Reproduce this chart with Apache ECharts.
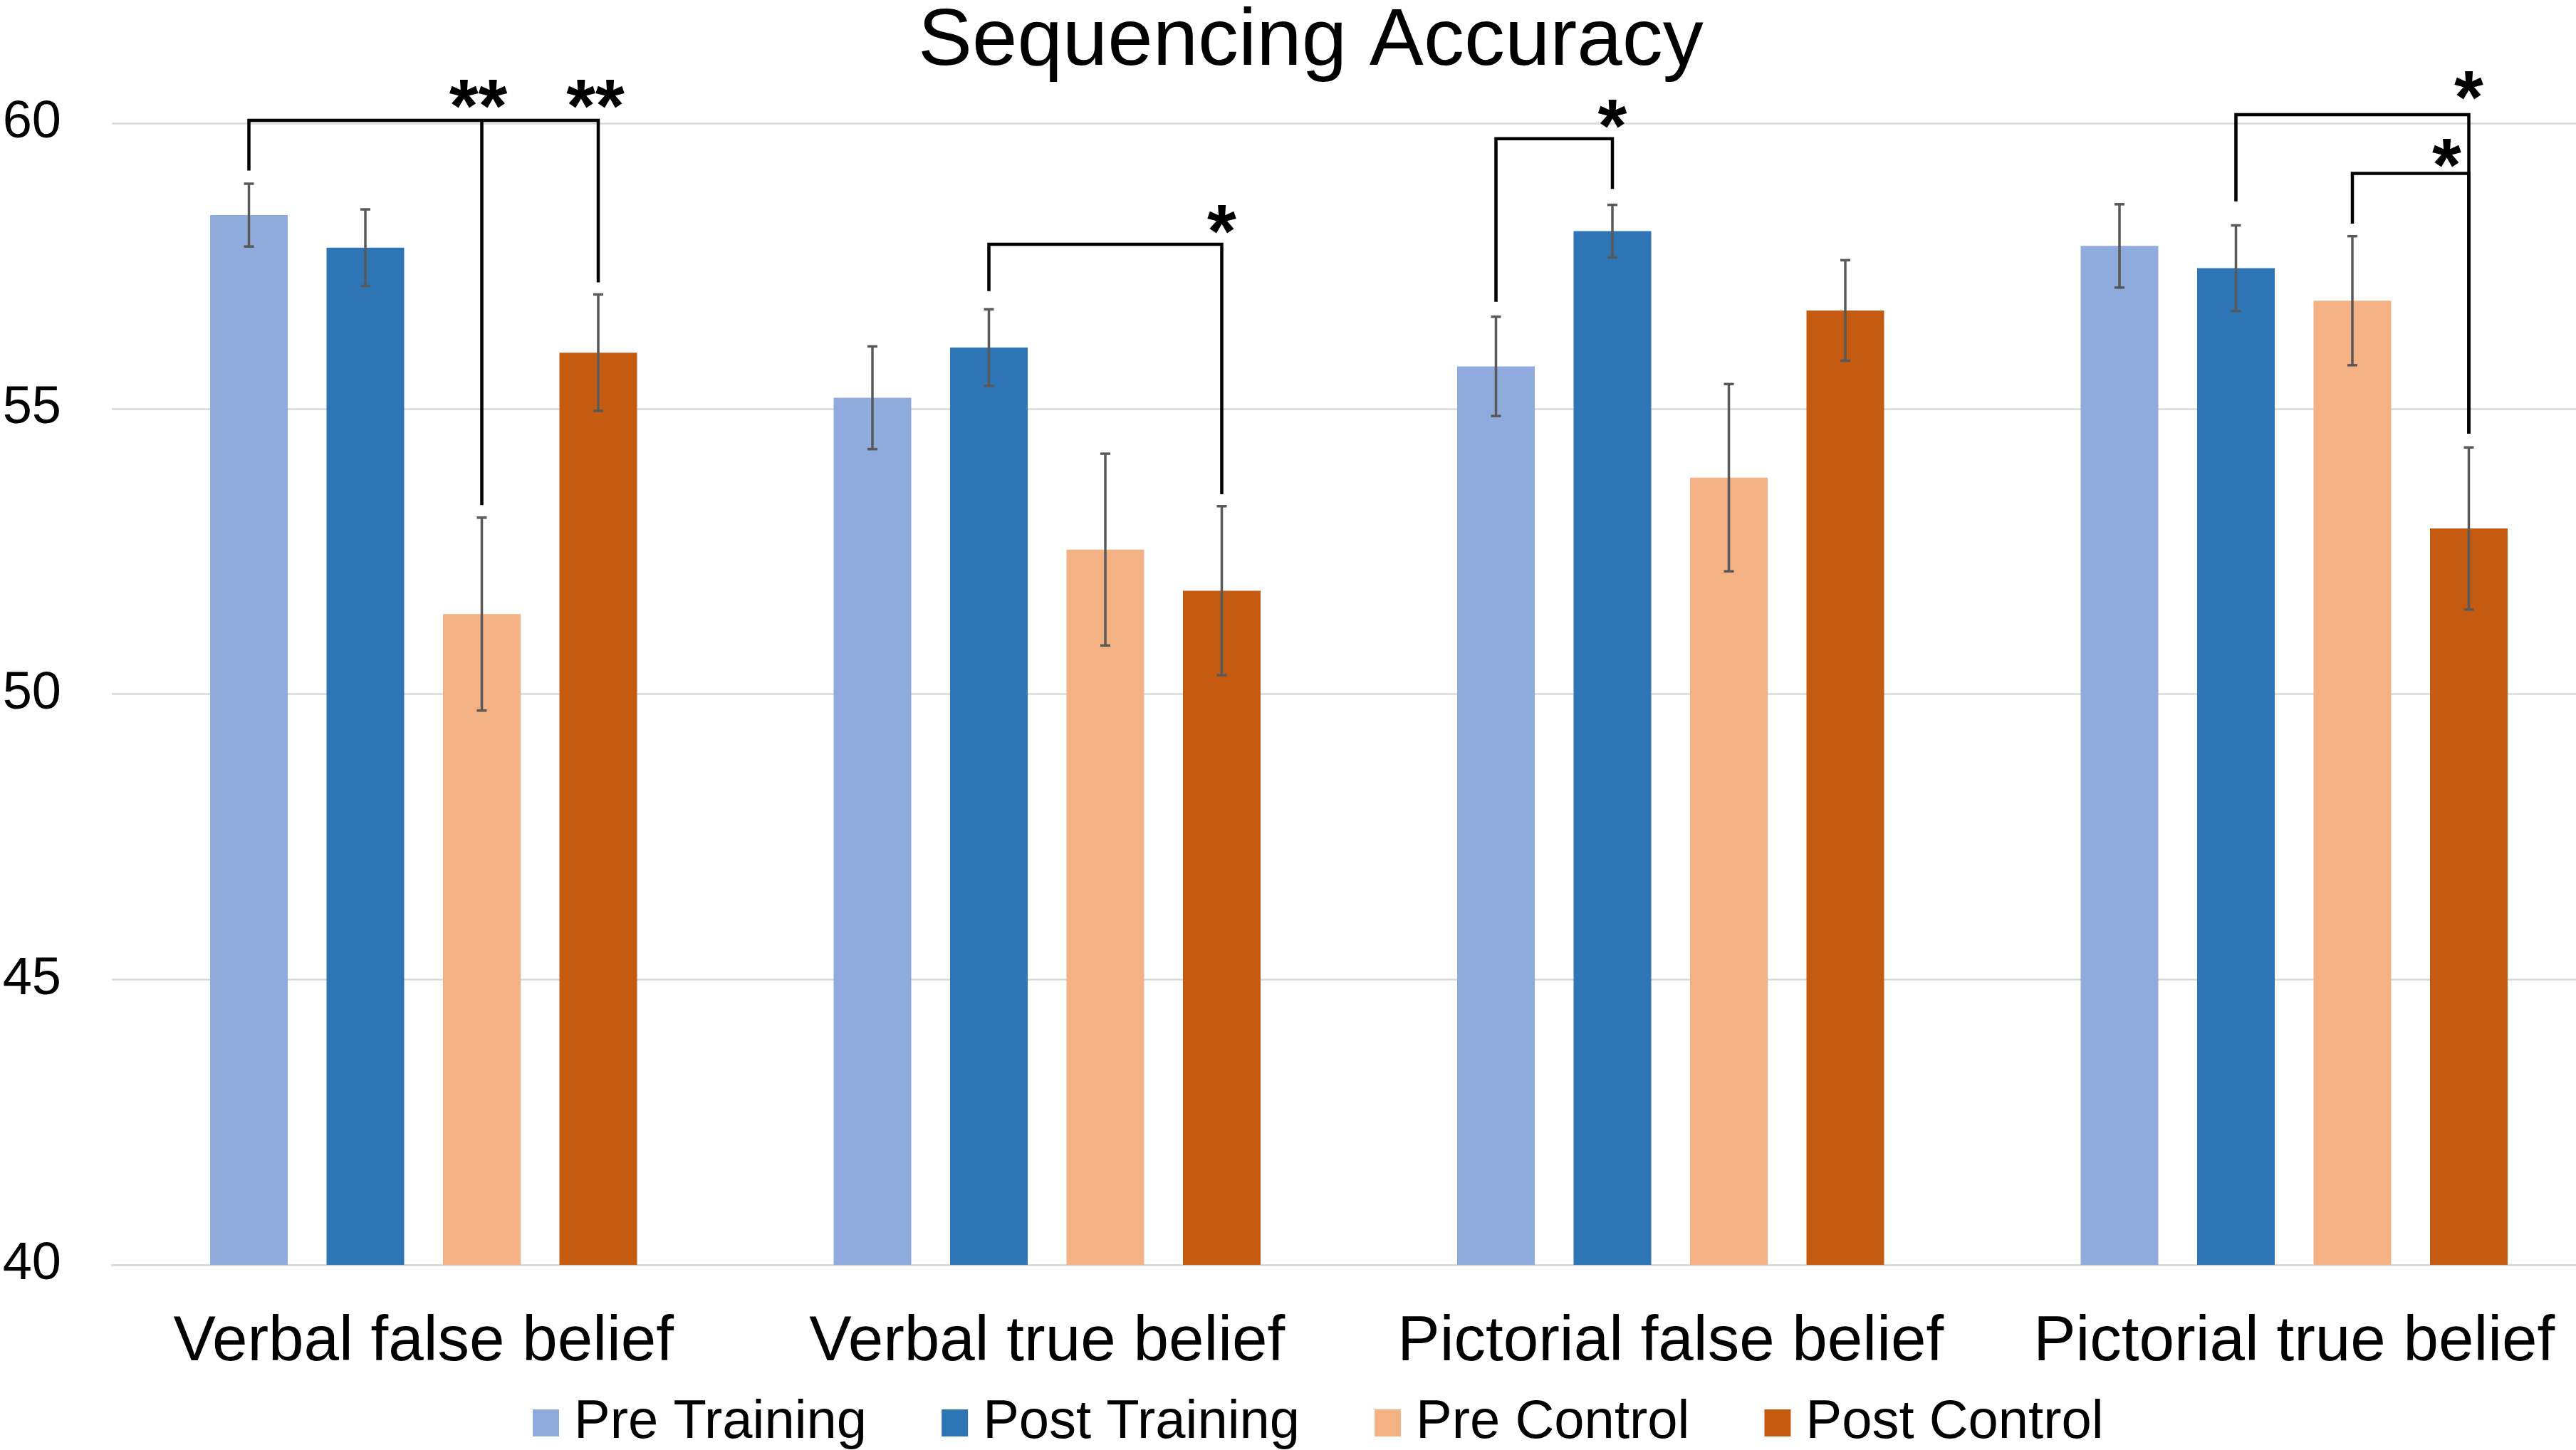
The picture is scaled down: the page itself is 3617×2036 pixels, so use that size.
<!doctype html>
<html>

<head>
    <meta charset="utf-8">
    <title>Sequencing Accuracy</title>
    <style>
        html,
        body {
            margin: 0;
            padding: 0;
            background: #fff;
        }

        #chart {
            width: 3617px;
            height: 2036px;
        }
    </style>
</head>

<body>
    <div id="chart"></div>
    <script src="https://cdn.jsdelivr.net/npm/echarts@6/dist/echarts.min.js"></script>
    <script>
        var categories = ['Verbal false belief', 'Verbal true belief', 'Pictorial false belief', 'Pictorial true belief'];
        var seriesNames = ['Pre Training', 'Post Training', 'Pre Control', 'Post Control'];
        var colors = ['#8FAADC', '#2E75B6', '#F4B183', '#C55A11'];

        // means
        var preTraining = [58.39, 55.19, 55.74, 57.85];
        var postTraining = [57.82, 56.07, 58.11, 57.46];
        var preControl = [51.40, 52.53, 53.79, 56.89];
        var postControl = [55.98, 51.81, 56.72, 52.90];

        // error bar half widths
        var preTrainingErr = [0.55, 0.90, 0.87, 0.73];
        var postTrainingErr = [0.67, 0.67, 0.46, 0.75];
        var preControlErr = [1.69, 1.68, 1.64, 1.13];
        var postControlErr = [1.02, 1.48, 0.88, 1.42];

        var yTicks = { min: 40, max: 60, interval: 5 };

        // significance brackets: [category, from bar, to bar, bracket level, drop at from, drop at to]
        var brackets = [
            [0, 0, 3, 60.05, 59.17, 57.21],
            [0, 2, 2, 60.05, 53.31, 53.31],
            [1, 1, 3, 57.88, 57.06, 53.50],
            [2, 0, 1, 59.73, 56.87, 58.85],
            [3, 1, 3, 60.15, 58.63, 54.56],
            [3, 2, 3, 59.12, 58.24, 54.56]
        ];
        // stars: [category, bar, value, pixel shift x]
        var stars = [
            [0, 2, 60.47, -5],
            [0, 3, 60.47, -4],
            [1, 3, 58.28, 0],
            [2, 1, 60.13, 0],
            [3, 3, 60.62, 0],
            [3, 3, 59.44, -31]
        ];
        var starLabels = ['**', '**', '*', '*', '*', '*'];

        var means = [preTraining, postTraining, preControl, postControl];
        var errs = [preTrainingErr, postTrainingErr, preControlErr, postControlErr];

        var FONT = 'Liberation Sans, Arial, sans-serif';
        var BAR_W = 109;
        var STEP = BAR_W * 1.5;

        var barX = function (api, cat, bar, v) {
            return api.coord([cat, v])[0] + (bar - 1.5) * STEP;
        };

        var errRender = function (s) {
            return function (params, api) {
                var cat = api.value(0), m = api.value(1), e = api.value(2);
                var x = barX(api, cat, s, m);
                var yt = api.coord([cat, m + e])[1];
                var yb = api.coord([cat, m - e])[1];
                var st = { stroke: '#595959', lineWidth: 3.5 };
                return {
                    type: 'group',
                    children: [
                        { type: 'line', shape: { x1: x, y1: yt, x2: x, y2: yb }, style: st },
                        { type: 'line', shape: { x1: x - 7, y1: yt, x2: x + 7, y2: yt }, style: st },
                        { type: 'line', shape: { x1: x - 7, y1: yb, x2: x + 7, y2: yb }, style: st }
                    ]
                };
            };
        };

        var series = [];
        for (var i = 0; i < seriesNames.length; i++) {
            series.push({
                name: seriesNames[i],
                type: 'bar',
                data: means[i],
                barWidth: BAR_W,
                barGap: '50%',
                itemStyle: { color: colors[i] }
            });
        }
        for (var j = 0; j < seriesNames.length; j++) {
            var d = [];
            for (var k = 0; k < categories.length; k++) {
                d.push([k, means[j][k], errs[j][k]]);
            }
            series.push({
                type: 'custom',
                renderItem: errRender(j),
                data: d,
                z: 5,
                silent: true
            });
        }
        series.push({
            type: 'custom',
            encode: { x: 0, y: 3 },
            data: brackets,
            z: 6,
            silent: true,
            renderItem: function (params, api) {
                var cat = api.value(0), a = api.value(1), b = api.value(2);
                var lv = api.value(3);
                var x1 = barX(api, cat, a, lv), x2 = barX(api, cat, b, lv);
                var yl = api.coord([cat, lv])[1];
                var y1 = api.coord([cat, api.value(4)])[1];
                var y2 = api.coord([cat, api.value(5)])[1];
                return {
                    type: 'polyline',
                    shape: { points: [[x1, y1], [x1, yl], [x2, yl], [x2, y2]] },
                    style: { stroke: '#000', lineWidth: 4.5, fill: null }
                };
            }
        });
        series.push({
            type: 'custom',
            encode: { x: 0, y: 2 },
            data: stars,
            z: 7,
            silent: true,
            renderItem: function (params, api) {
                var cat = api.value(0), b = api.value(1), v = api.value(2);
                var x = barX(api, cat, b, v) + api.value(3);
                var y = api.coord([cat, v])[1] + 21;
                return {
                    type: 'text',
                    x: x,
                    y: y,
                    style: {
                        text: starLabels[params.dataIndex],
                        fontFamily: FONT,
                        fontSize: 105,
                        fontWeight: 'bold',
                        fill: '#000',
                        align: 'center',
                        verticalAlign: 'middle'
                    }
                };
            }
        });

        var myChart = echarts.init(document.getElementById('chart'));
        var option = {
            animation: false,
            backgroundColor: '#fff',
            textStyle: { fontFamily: FONT },
            title: {
                text: 'Sequencing Accuracy',
                left: 1289,
                top: 3,
                padding: 0,
                textStyle: { fontFamily: FONT, fontSize: 114, fontWeight: 'normal', color: '#000' }
            },
            legend: {
                data: seriesNames,
                left: 748,
                top: 1960,
                icon: 'rect',
                itemWidth: 37,
                itemHeight: 38,
                itemGap: 105,
                padding: 0,
                textStyle: { fontFamily: FONT, fontSize: 76, color: '#000', padding: [0, 0, 0, 16] }
            },
            grid: {
                left: 157,
                top: 173,
                width: 3502,
                height: 1603,
                outerBoundsMode: 'none'
            },
            xAxis: {
                type: 'category',
                data: categories,
                axisTick: { show: false },
                axisLine: { lineStyle: { color: '#D9D9D9', width: 2.5 } },
                axisLabel: { fontFamily: FONT, fontSize: 89, color: '#000', margin: 65, interval: 0 }
            },
            yAxis: {
                type: 'value',
                min: yTicks.min,
                max: yTicks.max,
                interval: yTicks.interval,
                axisLine: { show: false },
                axisTick: { show: false },
                splitLine: { lineStyle: { color: '#D9D9D9', width: 2.5 } },
                axisLabel: { fontFamily: FONT, fontSize: 74, color: '#000', margin: 71 }
            },
            series: series
        };
        myChart.setOption(option);
    </script>
</body>

</html>
